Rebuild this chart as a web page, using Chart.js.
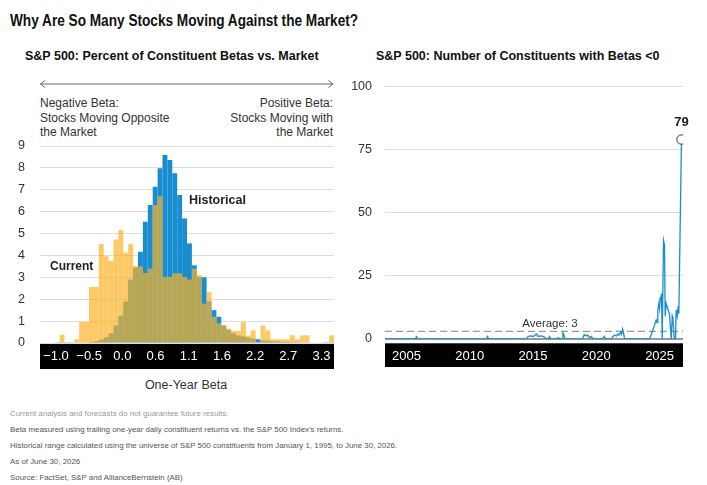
<!DOCTYPE html>
<html>
<head>
<meta charset="utf-8">
<script src="https://cdn.jsdelivr.net/npm/chart.js@4.4.1/dist/chart.umd.min.js"></script>
<style>
  html, body { margin: 0; padding: 0; background: #fff; }
  body { width: 707px; height: 485px; position: relative; overflow: hidden;
         font-family: 'Liberation Sans', Arial, sans-serif; color: #222; }
  .abs { position: absolute; white-space: nowrap; }
  #title { left: 10px; top: 9.7px; line-height: 20px; font-weight: bold; font-size: 16.5px; color: #111;
           transform: scaleX(0.826); transform-origin: 0 50%; }
  .sub { top: 49px; line-height: 15px; font-weight: bold; font-size: 12.5px; color: #111; }
  .note { font-size: 12px; line-height: 14.5px; color: #333; }
  .lbl { font-weight: bold; color: #222; }
  #foot { left: 10px; top: 406px; font-size: 7.9px; line-height: 16px; color: #555; }
  #foot .first { color: #999; }
  canvas { position: absolute; }
</style>
</head>
<body>
<div id="title" class="abs">Why Are So Many Stocks Moving Against the Market?</div>
<div class="abs sub" style="left:25px">S&amp;P 500: Percent of Constituent Betas vs. Market</div>
<div class="abs sub" style="left:376px">S&amp;P 500: Number of Constituents with Betas &lt;0</div>

<svg class="abs" style="left:0;top:78px" width="345" height="12">
  <line x1="40.5" y1="6" x2="333" y2="6" stroke="#666" stroke-width="1"/>
  <polyline points="45,2.5 40.5,6 45,9.5" fill="none" stroke="#666" stroke-width="1"/>
  <polyline points="328.5,2.5 333,6 328.5,9.5" fill="none" stroke="#666" stroke-width="1"/>
</svg>
<div class="abs note" style="left:40px;top:96px">Negative Beta:<br>Stocks Moving Opposite<br>the Market</div>
<div class="abs note" style="right:374px;top:96px;text-align:right">Positive Beta:<br>Stocks Moving with<br>the Market</div>

<canvas id="histChart" width="340" height="239" style="left:0;top:130px"></canvas>
<canvas id="countChart" width="362" height="292" style="left:345px;top:75px"></canvas>

<div class="abs lbl" style="left:50px;top:259px;font-size:12px;line-height:14px">Current</div>
<div class="abs lbl" style="left:189px;top:193.3px;font-size:12.5px;line-height:15px">Historical</div>
<div class="abs" style="left:86px;width:200px;text-align:center;top:377.6px;font-size:12.5px;line-height:15px;color:#333">One-Year Beta</div>
<div class="abs" style="left:500px;width:100px;text-align:center;top:315.8px;font-size:11.5px;line-height:14px;color:#333">Average: 3</div>

<div id="foot" class="abs">
  <div class="first">Current analysis and forecasts do not guarantee future results.</div>
  <div>Beta measured using trailing one-year daily constituent returns vs. the S&amp;P 500 Index’s returns.</div>
  <div>Historical range calculated using the universe of S&amp;P 500 constituents from January 1, 1995, to June 30, 2026.</div>
  <div>As of June 30, 2026</div>
  <div>Source: FactSet, S&amp;P and AllianceBernstein (AB)</div>
</div>

<script>
// left chart: share of constituents per beta bin (%)
const binStart = -1.28;
const binWidth = 0.08;
const historical = [
  0, 0, 0, 0.01, 0.01, 0.01, 0.01, 0.02, 0.02, 0.03,
  0.05, 0.08, 0.15, 0.25, 0.45, 0.8, 1.25, 1.9, 2.9, 3.45,
  4.17, 5.54, 6.3, 7.14, 7.98, 8.59, 8.36, 7.75, 6.76, 5.69,
  4.55, 3.55, 3.02, 3.0, 1.9, 1.5, 1.2, 0.8, 0.6, 0.45,
  0.35, 0.3, 0.25, 0.2, 0.17, 0.12, 0.1, 0.08, 0.07, 0.06,
  0.05, 0.04, 0.04, 0.03, 0.03, 0.02, 0.02, 0.02, 0.01, 0.01
];
const current = [
  0, 0, 0, 0, 0.38, 0, 0, 0.17, 0.96, 0.96,
  2.56, 2.56, 4.52, 3.97, 3.75, 4.73, 5.16, 4.12, 4.52, 3.51,
  3.5, 3.2, 3.4, 6.3, 6.7, 3.02, 3.02, 3.18, 3.18, 3.02,
  2.9, 3.4, 3.1, 1.8, 2.33, 1.2, 0.9, 0.81, 0.66, 0.55,
  0.55, 0.96, 0.34, 0.58, 0.03, 0.8, 0.58, 0.17, 0.17, 0.17,
  0.17, 0.35, 0.17, 0.35, 0.35, 0, 0, 0, 0, 0.35
];
const betaTickLabels = ['−1.0', '−0.5', '0.0', '0.6', '1.1', '1.6', '2.2', '2.7', '3.3'];
const betaTickStart = -1.02;
const betaTickStep = 0.542;

// right chart: number of constituents with beta < 0
const years = [
  2003.3, 2005.7, 2005.79, 2005.88, 2011.3, 2011.4, 2011.5,
  2014.5, 2014.6, 2014.8, 2015.0, 2015.1, 2015.26, 2015.4, 2015.6, 2015.8, 2016.0, 2016.2, 2016.3, 2016.4,
  2016.9, 2017.0, 2017.1, 2017.3, 2017.36, 2017.45, 2017.55,
  2018.9, 2019.05, 2019.2, 2019.3, 2019.45, 2019.6, 2019.75,
  2020.5, 2020.62, 2020.75,
  2021.2, 2021.3, 2021.45, 2021.6, 2021.7, 2021.8, 2021.9, 2022.0, 2022.08, 2022.15, 2022.23,
  2024.2, 2024.35, 2024.47, 2024.6, 2024.73, 2024.8, 2024.86, 2024.94, 2025.0, 2025.05, 2025.1, 2025.15,
  2025.21, 2025.31, 2025.39, 2025.44, 2025.52, 2025.65, 2025.78, 2025.92, 2026.0, 2026.05, 2026.16,
  2026.26, 2026.31, 2026.39, 2026.47, 2026.52, 2026.73
];
const counts = [
  0, 0, 0.9, 0, 0, 1, 0,
  0, 1, 1.2, 1, 1.3, 2, 1, 1.2, 1, 0.3, 0, 1, 0,
  0, 0.5, 0, 0, 2.4, 1.5, 0,
  0, 1.8, 1.2, 1.6, 0.5, 1, 0,
  0, 1.1, 0,
  0, 1, 1.5, 1.2, 2, 1.5, 2.6, 1.8, 3.9, 2.5, 0,
  0, 1.8, 3.6, 5.5, 7.5, 6.5, 11.5, 14, 12, 16.7, 15, 18,
  0, 39, 37, 9, 14, 12, 10, 0, 9, 8, 0,
  0, 11.5, 9, 13, 10, 79
];
const average = 3;
const yearTicks = [2005, 2010, 2015, 2020, 2025];
const yearMin = 2003.3;
const yearMax = 2026.85;

const blue = 'rgb(24, 142, 208)';
const yellow = 'rgba(252, 178, 35, 0.7)';
const tickFont = { family: "'Liberation Sans', Arial, sans-serif", size: 12.5 };
const axisFont = { family: "'Liberation Sans', Arial, sans-serif", size: 13 };

// black band behind the x axis labels
const axisBand = {
  id: 'axisBand',
  beforeDraw(chart, args, opts) {
    const { ctx, chartArea } = chart;
    const x = chart.scales.x;
    ctx.save();
    ctx.fillStyle = '#000';
    ctx.fillRect(chartArea.left, x.top + opts.gap, chartArea.right - chartArea.left, x.bottom - x.top - opts.gap);
    ctx.restore();
  }
};

const lastLabel = {
  id: 'lastLabel',
  afterDatasetsDraw(chart) {
    const meta = chart.getDatasetMeta(0);
    const pt = meta.data[meta.data.length - 1];
    const ctx = chart.ctx;
    ctx.save();
    ctx.font = "bold 13px 'Liberation Sans', Arial, sans-serif";
    ctx.fillStyle = '#222';
    ctx.textAlign = 'center';
    ctx.textBaseline = 'middle';
    ctx.fillText(String(counts[counts.length - 1]), pt.x, pt.y - 17);
    ctx.restore();
  }
};

// keep the y axis width fixed and stop the tick padding from pushing the plot down
function fitYAxis(s) {
  s.width = 40;
  s.paddingTop = 7.5;
  s.paddingBottom = 7.5;
}

const binCenters = historical.map((v, i) => binStart + (i + 0.5) * binWidth);

new Chart(document.getElementById('histChart'), {
  type: 'bar',
  data: {
    datasets: [{
      label: 'Current',
      data: current.map((v, i) => ({ x: binCenters[i], y: v })),
      backgroundColor: yellow,
      order: 0
    }, {
      label: 'Historical',
      data: historical.map((v, i) => ({ x: binCenters[i], y: v })),
      backgroundColor: blue,
      order: 1
    }]
  },
  options: {
    responsive: false,
    animation: false,
    layout: { padding: { top: 16, right: 6, left: 0, bottom: 0 } },
    datasets: { bar: { grouped: false, barPercentage: 1, categoryPercentage: 1, borderWidth: 0, inflateAmount: 0 } },
    scales: {
      x: {
        type: 'linear',
        offset: false,
        min: binStart,
        max: binStart + historical.length * binWidth,
        grid: { display: false },
        border: { display: false },
        afterFit: s => { s.height = 26; },
        afterBuildTicks: s => { s.ticks = betaTickLabels.map((t, k) => ({ value: betaTickStart + k * betaTickStep })); },
        ticks: {
          autoSkip: false, maxRotation: 0, padding: -2.5,
          color: '#fff', font: axisFont,
          callback: (v, i) => betaTickLabels[i]
        }
      },
      y: {
        min: 0, max: 9,
        grid: { color: '#ddd', lineWidth: 1, drawTicks: false },
        border: { display: false },
        afterFit: fitYAxis,
        ticks: { stepSize: 1, padding: 15, color: '#333', font: tickFont }
      }
    },
    plugins: {
      legend: { display: false },
      tooltip: { enabled: false },
      axisBand: { gap: 0 }
    }
  },
  plugins: [axisBand]
});

new Chart(document.getElementById('countChart'), {
  type: 'line',
  data: {
    datasets: [{
      data: years.map((y, i) => ({ x: y, y: counts[i] })),
      borderColor: blue,
      borderWidth: 1.3,
      tension: 0,
      pointRadius: c => c.dataIndex === counts.length - 1 ? 4.7 : 0,
      pointBackgroundColor: '#fff',
      pointBorderColor: '#333',
      pointBorderWidth: 1,
      order: 0
    }, {
      data: [{ x: yearMin, y: average }, { x: yearMax, y: average }],
      borderColor: '#999',
      borderWidth: 1.2,
      borderDash: [7, 4],
      pointRadius: 0,
      order: 1
    }]
  },
  options: {
    responsive: false,
    animation: false,
    layout: { padding: { top: 11.5, right: 24, left: 0, bottom: 0 } },
    scales: {
      x: {
        type: 'linear',
        min: yearMin, max: yearMax,
        grid: { display: false },
        border: { display: false },
        afterFit: s => { s.height = 28; },
        afterBuildTicks: s => { s.ticks = yearTicks.map(v => ({ value: v })); },
        ticks: { autoSkip: false, maxRotation: 0, padding: 1.5, color: '#fff', font: axisFont,
                 callback: v => String(v) }
      },
      y: {
        min: 0, max: 100,
        grid: {
          drawTicks: false,
          color: c => c.tick.value === 0 ? '#999' : '#ddd',
          lineWidth: c => c.tick.value === 0 ? 2 : 1
        },
        border: { display: false },
        afterFit: fitYAxis,
        ticks: { stepSize: 25, padding: 13, color: '#333', font: tickFont }
      }
    },
    plugins: {
      legend: { display: false },
      tooltip: { enabled: false },
      axisBand: { gap: 4.3 }
    }
  },
  plugins: [axisBand, lastLabel]
});
</script>
</body>
</html>
